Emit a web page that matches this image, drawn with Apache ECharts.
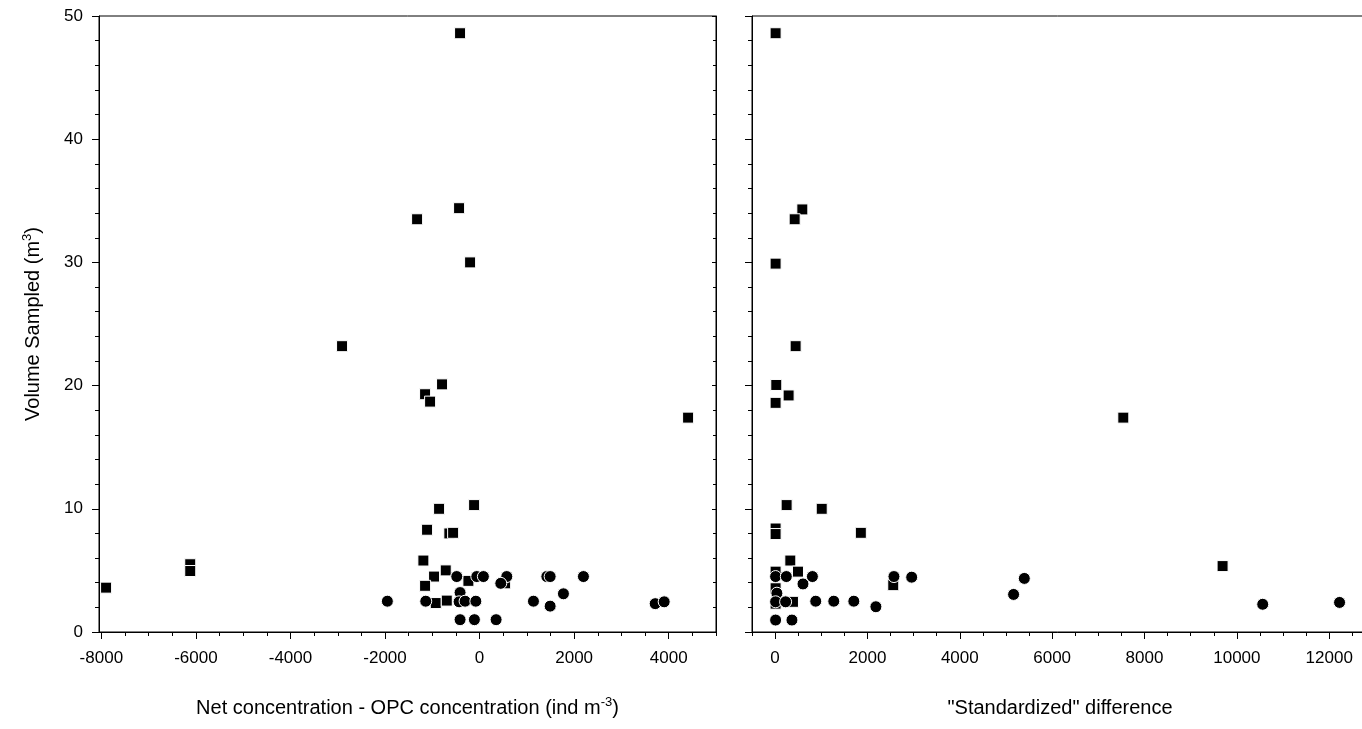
<!DOCTYPE html>
<html>
<head>
<meta charset="utf-8">
<script src="https://cdn.jsdelivr.net/npm/echarts@6/dist/echarts.min.js"></script>
<style>
  html, body { margin: 0; padding: 0; background: #fff; }
  #chart { width: 1362px; height: 729px; }
</style>
</head>
<body>
<div id="chart"></div>
<script>
// left panel: net - OPC concentration vs volume
const netSquare = [
  [-413, 48.6], [-434, 34.4], [-1322, 33.5], [-201, 30.0], [-2909, 23.2],
  [-794, 20.1], [-1153, 19.3], [-1047, 18.7], [4410, 17.4], [-857, 10.0],
  [-116, 10.3], [-1111, 8.3], [-640, 8.0], [-560, 8.05], [-1189, 5.8],
  [-963, 4.5], [-716, 5.0], [-1153, 3.75], [-237, 4.15], [540, 3.95],
  [-927, 2.35], [-694, 2.55], [-6120, 5.5], [-6120, 4.95], [-7900, 3.6]
];
const netCircle = [
  [-1951, 2.5], [-1139, 2.5], [-483, 4.5], [-413, 3.2], [-434, 2.45],
  [-307, 2.5], [-80, 2.5], [-59, 4.5], [80, 4.5], [575, 4.5],
  [448, 3.95], [1422, 4.5], [1492, 4.5], [1139, 2.5], [1492, 2.1],
  [1773, 3.1], [2196, 4.5], [3714, 2.3], [3904, 2.45],
  [-413, 1.0], [-110, 1.0], [349, 1.0]
];

// right panel: "standardized" difference vs volume
const stdSquare = [
  [11, 48.6], [590, 34.3], [424, 33.5], [11, 29.9], [445, 23.2],
  [26, 20.05], [293, 19.2], [11, 18.6], [7541, 17.4], [1010, 10.0],
  [250, 10.3], [1857, 8.05], [11, 8.4], [11, 7.95], [330, 5.8],
  [496, 4.9], [11, 4.9], [11, 3.55], [11, 2.3], [387, 2.45],
  [2559, 3.8], [9691, 5.35]
];
const stdCircle = [
  [11, 4.5], [243, 4.5], [604, 3.9], [808, 4.5], [39, 3.15],
  [11, 2.45], [228, 2.45], [880, 2.5], [1271, 2.5], [1705, 2.5],
  [2183, 2.05], [2574, 4.5], [2958, 4.45], [5165, 3.05], [5397, 4.35],
  [10560, 2.25], [12224, 2.4], [11, 0.97], [365, 0.97]
];

const netTicks = [-8000, -6000, -4000, -2000, 0, 2000, 4000];
const stdTicks = [0, 2000, 4000, 6000, 8000, 10000, 12000];

// minor ticks every 500
const minorTicks = (from, to) => {
  let out = [];
  for (let v = from; v <= to; v += 500) out.push(v);
  return out;
};

const font = "'Liberation Sans', Arial, sans-serif";
const black = { color: '#000', width: 1 };
const plain = (v) => String(v);

const nameStyle = {
  fontFamily: font,
  fontSize: 20,
  color: '#000',
  lineHeight: 24,
  rich: {
    sup: { fontFamily: font, fontSize: 13, color: '#000', verticalAlign: 'top', lineHeight: 13 }
  }
};

const majorX = (gridIndex, min, max, ticks, name) => ({
  type: 'value',
  gridIndex: gridIndex,
  min: min,
  max: max,
  position: 'bottom',
  name: name,
  nameLocation: 'middle',
  nameGap: 64,
  nameTextStyle: nameStyle,
  axisLine: { show: true, onZero: false, lineStyle: black },
  splitLine: { show: false },
  axisTick: { show: true, length: 7, customValues: ticks, lineStyle: black },
  axisLabel: { customValues: ticks, formatter: plain, margin: 18, fontFamily: font, fontSize: 17, color: '#000' }
});

const minorX = (gridIndex, min, max, ticks) => ({
  type: 'value',
  gridIndex: gridIndex,
  min: min,
  max: max,
  position: 'bottom',
  axisLine: { show: false, onZero: false },
  splitLine: { show: false },
  axisTick: { show: true, length: 4, customValues: ticks, lineStyle: black },
  axisLabel: { show: false }
});

const yAxisFor = (gridIndex, showLabel, name) => ({
  type: 'value',
  gridIndex: gridIndex,
  min: 0,
  max: 50,
  interval: 10,
  position: 'left',
  name: name,
  nameLocation: 'middle',
  nameGap: 54,
  nameTextStyle: nameStyle,
  axisLine: { show: true, onZero: false, lineStyle: black },
  splitLine: { show: false },
  axisTick: { show: true, length: 7, lineStyle: black },
  minorTick: { show: true, splitNumber: 5, length: 4, lineStyle: black },
  axisLabel: { show: showLabel, formatter: plain, margin: 16, fontFamily: font, fontSize: 17, color: '#000' }
});

const squareStyle = { color: '#000', opacity: 1, borderColor: '#fff', borderWidth: 1 };
const circleStyle = { color: '#000', opacity: 1, borderColor: '#fff', borderWidth: 1 };

const chart = echarts.init(document.getElementById('chart'));

chart.setOption({
  animation: false,
  backgroundColor: '#fff',
  grid: [
    { left: 99, top: 16, width: 617, height: 616, outerBoundsMode: 'none', show: true, borderColor: '#000', borderWidth: 1, backgroundColor: 'transparent' },
    { left: 752, top: 16, width: 616, height: 616, outerBoundsMode: 'none', show: true, borderColor: '#000', borderWidth: 1, backgroundColor: 'transparent' }
  ],
  xAxis: [
    majorX(0, -8050, 5000, netTicks, 'Net concentration - OPC concentration (ind m{sup|-3})'),
    minorX(0, -8050, 5000, minorTicks(-8000, 5000)),
    majorX(1, -500, 12840, stdTicks, '"Standardized" difference'),
    minorX(1, -500, 12840, minorTicks(-500, 12500))
  ],
  yAxis: [
    yAxisFor(0, true, 'Volume Sampled (m{sup|3})'),
    {
      type: 'value', gridIndex: 0, min: 0, max: 50, interval: 10, position: 'right',
      axisLine: { show: true, onZero: false, lineStyle: black },
      splitLine: { show: false },
      axisTick: { show: true, inside: true, length: 4, lineStyle: black },
      minorTick: { show: true, splitNumber: 5, length: 3, lineStyle: black },
      axisLabel: { show: false }
    },
    yAxisFor(1, false, '')
  ],
  series: [
    { type: 'scatter', xAxisIndex: 0, yAxisIndex: 0, symbol: 'rect', symbolSize: 11, itemStyle: squareStyle, data: netSquare },
    { type: 'scatter', xAxisIndex: 0, yAxisIndex: 0, symbol: 'circle', symbolSize: 12, itemStyle: circleStyle, data: netCircle },
    { type: 'scatter', xAxisIndex: 2, yAxisIndex: 2, symbol: 'rect', symbolSize: 11, itemStyle: squareStyle, data: stdSquare },
    { type: 'scatter', xAxisIndex: 2, yAxisIndex: 2, symbol: 'circle', symbolSize: 12, itemStyle: circleStyle, data: stdCircle }
  ]
});
</script>
</body>
</html>
